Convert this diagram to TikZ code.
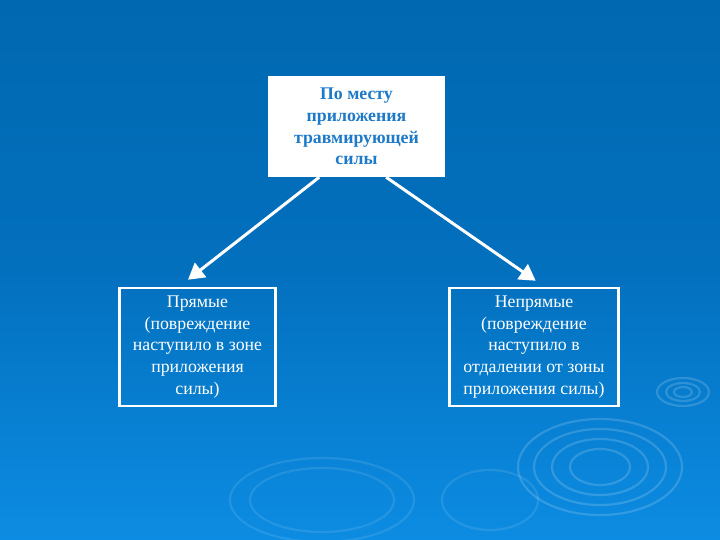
\documentclass[tikz,border=0pt]{standalone}
\usepackage{fontspec}
\setmainfont{Liberation Serif}
\usetikzlibrary{arrows.meta,calc}
\definecolor{bgtop}{RGB}{0,104,176}
\definecolor{bgmid}{RGB}{3,112,190}
\definecolor{bgbot}{RGB}{12,140,226}
\definecolor{titleblue}{RGB}{30,122,200}
\tikzset{
  topbox/.style={draw=none, fill=white, text=titleblue, font=\fontsize{17.8}{21.6}\selectfont\bfseries, align=center, inner sep=0pt},
  lowbox/.style={draw=white, line width=2.5pt, fill=none, text=white, font=\fontsize{17.8}{21.6}\selectfont, align=center, inner sep=0pt},
  conn/.style={draw=white, line width=3pt, -{Triangle[length=16pt,width=18pt]}},
  ripple/.style={draw=white, line width=2.2pt, opacity=0.16}
}
\begin{document}
\begin{tikzpicture}[x=1pt,y=-1pt]
\shade[top color=bgtop, bottom color=bgbot, middle color=bgmid] (0,0) rectangle (720,540);
\useasboundingbox (0,0) rectangle (720,540);
% decorative ripples
\foreach \rx/\ry in {82/48,66/38,48/28,30/18}{\draw[ripple] (600,467) ellipse ({\rx} and {\ry});}
\foreach \rx/\ry in {26/14,17/9,9/5}{\draw[ripple] (683,392) ellipse ({\rx} and {\ry});}
\foreach \rx/\ry in {92/42,72/32}{\draw[ripple, opacity=0.1] (322,500) ellipse ({\rx} and {\ry});}
\draw[ripple, opacity=0.1] (490,500) ellipse (48 and 30);
% boxes
\node[topbox, minimum width=177pt, minimum height=101pt] (top) at (356.5,126.5) {По месту\\приложения\\травмирующей\\силы};
\node[lowbox, minimum width=156pt, minimum height=118pt] (left) at (197.5,347) {Прямые\\(повреждение\\наступило в зоне\\приложения\\силы)};
\node[lowbox, minimum width=169pt, minimum height=118pt] (right) at (534,347) {Непрямые\\(повреждение\\наступило в\\отдалении от зоны\\приложения силы)};
% connectors
\coordinate (ls) at ($(top.south west)!0.29!(top.south east)$);
\coordinate (rs) at ($(top.south west)!0.667!(top.south east)$);
\coordinate (le) at ($(left.north west)!0.44!(left.north east)+(0,-7)$);
\coordinate (re) at ($(right.north west)!0.51!(right.north east)+(0,-6)$);
\draw[conn] (ls) -- (le);
\draw[conn] (rs) -- (re);
\end{tikzpicture}
\end{document}
